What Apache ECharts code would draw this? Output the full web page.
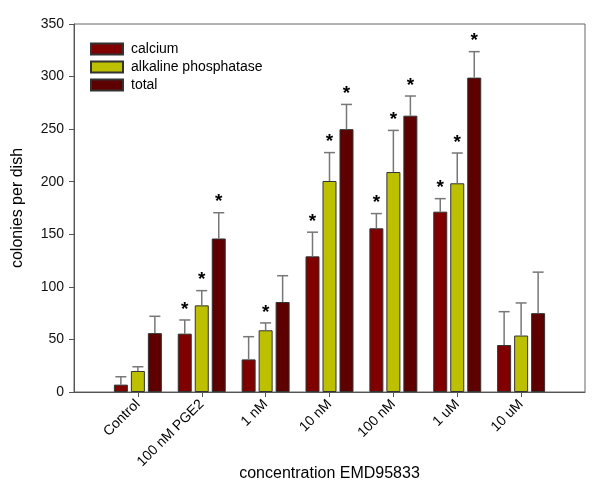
<!DOCTYPE html>
<html>
<head>
<meta charset="utf-8">
<script src="https://cdn.jsdelivr.net/npm/echarts@6/dist/echarts.min.js"></script>
<style>html,body{margin:0;padding:0;background:#fff}#c{width:600px;height:497px}</style>
</head>
<body>
<div id="c"></div>
<script>
const categories = ['Control', '100 nM PGE2', '1 nM', '10 nM', '100 nM', '1 uM', '10 uM'];
const calcium = [7, 55.5, 31, 129, 155.7, 171.5, 44.7];
const calciumErr = [7.5, 13, 21.6, 23, 14, 12.4, 31.7];
const calciumSig = [0, 1, 0, 1, 1, 1, 0];
const alkaline = [20, 82.4, 58.7, 200.7, 209.2, 198.5, 53.7];
const alkalineErr = [4, 14, 7, 27, 39.6, 28.8, 31];
const alkalineSig = [0, 1, 1, 1, 1, 1, 0];
const total = [56, 146, 85.6, 250, 262.8, 299, 75];
const totalErr = [16, 24.5, 25, 23.5, 18.7, 24.7, 39];
const totalSig = [0, 1, 0, 1, 1, 1, 0];
const yTicks = [0, 50, 100, 150, 200, 250, 300, 350];

const FONT = 'Liberation Sans, Arial, sans-serif';
const cats = [''].concat(categories, ['']);
const pad = arr => [null].concat(arr, [null]);

function errSeries(name, vals, errs, sig, offset) {
  const data = vals.map((v, i) => [i + 1, v, errs[i], sig[i]]);
  return {
    type: 'custom',
    name: name,
    z: 5,
    data: data,
    encode: { x: 0, y: 1 },
    renderItem: function (params, api) {
      const idx = api.value(0), v = api.value(1), e = api.value(2), s = api.value(3);
      const p0 = api.coord([idx, v]);
      const p1 = api.coord([idx, v + e]);
      const x = p0[0] + offset;
      const children = [
        { type: 'line', shape: { x1: x, y1: p0[1], x2: x, y2: p1[1] }, style: { stroke: '#777', lineWidth: 1.5 } },
        { type: 'line', shape: { x1: x - 5.5, y1: p1[1], x2: x + 5.5, y2: p1[1] }, style: { stroke: '#777', lineWidth: 1.5 } }
      ];
      if (s) {
        children.push({
          type: 'text',
          x: x, y: p1[1] - 1,
          style: { text: '*', fontSize: 19, fontWeight: 'bold', fontFamily: FONT, fill: '#000', align: 'center', verticalAlign: 'bottom' }
        });
      }
      return { type: 'group', children: children };
    }
  };
}

const chart = echarts.init(document.getElementById('c'), null, { renderer: 'canvas' });
chart.setOption({
  animation: false,
  textStyle: { fontFamily: FONT },
  grid: { left: 74, right: 15, top: 24, bottom: 105, show: true, borderColor: '#666', borderWidth: 1, backgroundColor: 'transparent' },
  legend: {
    data: ['calcium', 'alkaline phosphatase', 'total'],
    orient: 'vertical', left: 90, top: 42, padding: 0,
    itemWidth: 32, itemHeight: 11, itemGap: 4,
    icon: 'rect',
    textStyle: { fontSize: 14, color: '#000', fontFamily: FONT, padding: [0, 0, 0, 3] }
  },
  xAxis: {
    type: 'category', data: cats, boundaryGap: false,
    name: 'concentration EMD95833', nameLocation: 'middle', nameGap: 74, nameMoveOverlap: false,
    nameTextStyle: { fontSize: 16, color: '#000', fontFamily: FONT },
    axisLine: { lineStyle: { color: '#555', width: 1 } },
    axisTick: { interval: (i) => i > 0 && i < 8, length: 5, lineStyle: { color: '#555' } },
    axisLabel: { interval: 0, rotate: 45, fontSize: 14, color: '#000', margin: 10, fontFamily: FONT },
    splitLine: { show: false }
  },
  yAxis: {
    type: 'value', min: 0, max: 350, interval: 50,
    name: 'colonies per dish', nameLocation: 'middle', nameGap: 48,
    nameTextStyle: { fontSize: 16, color: '#000', fontFamily: FONT },
    axisLine: { show: true, lineStyle: { color: '#555', width: 1 } },
    axisTick: { show: true, length: 5, lineStyle: { color: '#555' } },
    axisLabel: { fontSize: 14, color: '#111', margin: 10, fontFamily: FONT, formatter: v => yTicks.includes(v) ? String(v) : '' },
    splitLine: { show: false }
  },
  series: [
    { type: 'bar', name: 'calcium', data: pad(calcium), barWidth: 14, barGap: '21.4%',
      itemStyle: { color: '#800000', borderColor: '#333', borderWidth: 1 } },
    { type: 'bar', name: 'alkaline phosphatase', data: pad(alkaline), barWidth: 14, barGap: '21.4%',
      itemStyle: { color: '#bcc000', borderColor: '#333', borderWidth: 1 } },
    { type: 'bar', name: 'total', data: pad(total), barWidth: 14, barGap: '21.4%',
      itemStyle: { color: '#5e0000', borderColor: '#333', borderWidth: 1 } },
    errSeries('calcium err', calcium, calciumErr, calciumSig, -17),
    errSeries('alkaline err', alkaline, alkalineErr, alkalineSig, 0),
    errSeries('total err', total, totalErr, totalSig, 17)
  ]
});
</script>
</body>
</html>
